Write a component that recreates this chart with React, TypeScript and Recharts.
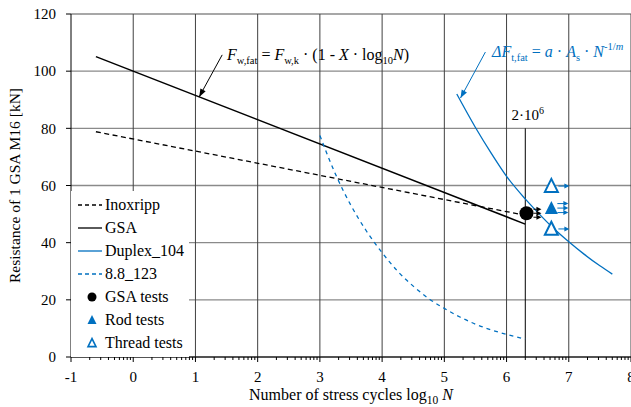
import React from 'react';
import {
  ComposedChart,
  Line,
  Scatter,
  XAxis,
  YAxis,
  CartesianGrid,
  ReferenceLine,
  ReferenceDot,
  Legend,
} from 'recharts';

const BLUE = '#0070c0';
const FONT = '"Liberation Serif", "Times New Roman", serif';

// S-N lines (x = log10 N, y = resistance in kN)
const inoxripp = [
  { x: -0.6, y: 78.8 },
  { x: 6.25, y: 49.8 },
];
const gsa = [
  { x: -0.6, y: 105.1 },
  { x: 6.3, y: 46.5 },
];
const duplex104 = [
  { x: 5.2, y: 92 },
  { x: 5.5, y: 80.3 },
  { x: 5.75, y: 71.4 },
  { x: 6, y: 63.2 },
  { x: 6.3, y: 55.3 },
  { x: 6.5, y: 50.6 },
  { x: 6.75, y: 45.1 },
  { x: 7, y: 40.3 },
  { x: 7.25, y: 35.9 },
  { x: 7.5, y: 31.9 },
  { x: 7.7, y: 29 },
];
const bolt88_123 = [
  { x: 3, y: 77.5 },
  { x: 3.25, y: 64 },
  { x: 3.5, y: 53 },
  { x: 3.75, y: 44 },
  { x: 4, y: 36.5 },
  { x: 4.25, y: 30 },
  { x: 4.5, y: 24.8 },
  { x: 4.75, y: 20.4 },
  { x: 5, y: 17 },
  { x: 5.25, y: 14 },
  { x: 5.5, y: 11.5 },
  { x: 5.75, y: 9.5 },
  { x: 6, y: 7.9 },
  { x: 6.3, y: 6.3 },
];

// test results (run-outs, hence the arrows)
const gsaTests = [{ x: 6.32, y: 50.3 }];
const rodTests = [{ x: 6.72, y: 52.1 }];
const threadTests = [
  { x: 6.72, y: 59.8 },
  { x: 6.72, y: 44.8 },
];

const xMajor = [-1, 0, 1, 2, 3, 4, 5, 6, 7, 8];
const xMinor = xMajor.slice(0, -1).flatMap((d) =>
  [2, 3, 4, 5, 6, 7, 8, 9].map((k) => d + Math.log10(k))
);
const xTicks = [...xMajor, ...xMinor].sort((a, b) => a - b);
const yTicks = [0, 20, 40, 60, 80, 100, 120];
const gridX = [0, 1, 2, 3, 4, 5, 6, 7, 8];
const cycleRef = 6.301; // log10(2e6)

const XTick = ({ x, y, payload }: any) => {
  const v = payload.value;
  const major = Math.abs(v - Math.round(v)) < 1e-6;
  return (
    <g>
      <line x1={x} x2={x} y1={y} y2={y + (major ? 5 : 3)} stroke="#000" strokeWidth={1} />
      {major && (
        <text x={x} y={y + 25} textAnchor="middle" fontSize={15} fontFamily={FONT} fill="#000">
          {Math.round(v)}
        </text>
      )}
    </g>
  );
};

const YTitle = ({ viewBox }: any) => {
  const x = viewBox.x + 20;
  const y = viewBox.y + viewBox.height / 2;
  return (
    <text x={x} y={y} transform={`rotate(-90 ${x} ${y})`} textAnchor="middle" fontSize={15.5} fontFamily={FONT} fill="#000">
      Resistance of 1 GSA M16 [kN]
    </text>
  );
};

const XTitle = ({ viewBox }: any) => (
  <text x={viewBox.x + viewBox.width / 2} y={viewBox.y + 43} textAnchor="middle" fontSize={16} fontFamily={FONT} fill="#000">
    Number of stress cycles log
    <tspan fontSize={11.5} dy={4}>10</tspan>
    <tspan dy={-4}> </tspan>
    <tspan fontStyle="italic">N</tspan>
  </text>
);

const head = (x: number, y: number, dx: number, dy: number, len: number, w: number) => {
  const l = Math.hypot(dx, dy) || 1;
  const ux = dx / l;
  const uy = dy / l;
  const bx = x - ux * len;
  const by = y - uy * len;
  return `${x},${y} ${bx - uy * w},${by + ux * w} ${bx + uy * w},${by - ux * w}`;
};

const ArrowLine = (color: string) => (p: any) => (
  <g>
    <line x1={p.x1} y1={p.y1} x2={p.x2} y2={p.y2} stroke={color} strokeWidth={1} />
    <polygon points={head(p.x2, p.y2, p.x2 - p.x1, p.y2 - p.y1, 8, 3)} fill={color} />
  </g>
);

const runOut = (x: number, y: number, color: string, len: number) => (
  <g key={`${x}-${y}`}>
    <line x1={x} x2={x + len - 4} y1={y} y2={y} stroke={color} strokeWidth={1} />
    <polygon points={head(x + len, y, 1, 0, 5, 2.5)} fill={color} />
  </g>
);

const GsaShape = ({ cx, cy }: any) => (
  <g>
    <circle cx={cx} cy={cy} r={7} fill="#000" />
    {[-4, 0, 4].map((d) => runOut(cx + 7, cy + d, '#000', 8))}
  </g>
);

const tri = (cx: number, cy: number, s: number) =>
  `${cx},${cy - s * 0.55} ${cx - s / 2},${cy + s * 0.45} ${cx + s / 2},${cy + s * 0.45}`;

const RodShape = ({ cx, cy }: any) => (
  <g>
    <polygon points={tri(cx, cy, 13)} fill={BLUE} />
    {[-4.5, 0, 4.5].map((d) => runOut(cx + 6, cy + d, BLUE, 11))}
  </g>
);

const ThreadShape = ({ cx, cy }: any) => (
  <g>
    <polygon points={tri(cx, cy, 13)} fill="#fff" stroke={BLUE} strokeWidth={2} />
    {runOut(cx + 7, cy, BLUE, 11)}
  </g>
);

const FormulaBlack = ({ cx, cy }: any) => (
  <text x={cx} y={cy} fontSize={16} fontFamily={FONT} fill="#000">
    <tspan fontStyle="italic">F</tspan>
    <tspan fontSize={10.5} dy={4}>w,fat</tspan>
    <tspan dy={-4}> = </tspan>
    <tspan fontStyle="italic">F</tspan>
    <tspan fontSize={10.5} dy={4}>w,k</tspan>
    <tspan dy={-4}> · (1 - </tspan>
    <tspan fontStyle="italic">X</tspan>
    <tspan> · log</tspan>
    <tspan fontSize={10.5} dy={4}>10</tspan>
    <tspan dy={-4} fontStyle="italic">N</tspan>
    <tspan>)</tspan>
  </text>
);

const FormulaBlue = ({ cx, cy }: any) => (
  <text x={cx} y={cy} fontSize={16} fontFamily={FONT} fill={BLUE}>
    <tspan fontStyle="italic">ΔF</tspan>
    <tspan fontSize={10.5} dy={4}>t,fat</tspan>
    <tspan dy={-4}> = </tspan>
    <tspan fontStyle="italic">a</tspan>
    <tspan> · </tspan>
    <tspan fontStyle="italic">A</tspan>
    <tspan fontSize={10.5} dy={4}>s</tspan>
    <tspan dy={-4}> · </tspan>
    <tspan fontStyle="italic">N</tspan>
    <tspan fontSize={10.5} dy={-7}>-1/</tspan>
    <tspan fontSize={10.5} fontStyle="italic">m</tspan>
  </text>
);

const CycleLabel = ({ cx, cy }: any) => (
  <text x={cx} y={cy} fontSize={15} fontFamily={FONT} fill="#000">
    2·10
    <tspan fontSize={10} dy={-6}>6</tspan>
  </text>
);

const legendRows = [
  { name: 'Inoxripp', kind: 'line', color: '#000', dash: '4 3' },
  { name: 'GSA', kind: 'line', color: '#000', dash: undefined },
  { name: 'Duplex_104', kind: 'line', color: BLUE, dash: undefined },
  { name: '8.8_123', kind: 'line', color: BLUE, dash: '4 3' },
  { name: 'GSA tests', kind: 'circle', color: '#000', dash: undefined },
  { name: 'Rod tests', kind: 'rod', color: BLUE, dash: undefined },
  { name: 'Thread tests', kind: 'thread', color: BLUE, dash: undefined },
];

const LegendBox = () => (
  <svg width={118} height={166} style={{ display: 'block' }}>
    {legendRows.map((r, i) => {
      const y = 14 + i * 23;
      let icon;
      if (r.kind === 'line') {
        icon = <line x1={7} x2={31} y1={y} y2={y} stroke={r.color} strokeWidth={1.3} strokeDasharray={r.dash} />;
      } else if (r.kind === 'circle') {
        icon = <circle cx={21} cy={y} r={4.5} fill="#000" />;
      } else if (r.kind === 'rod') {
        icon = <polygon points={tri(21, y, 9)} fill={BLUE} />;
      } else {
        icon = <polygon points={tri(21, y, 8)} fill="#fff" stroke={BLUE} strokeWidth={1.6} />;
      }
      return (
        <g key={r.name}>
          {icon}
          <text x={34} y={y + 5} fontSize={16} fontFamily={FONT} fill="#000">
            {r.name}
          </text>
        </g>
      );
    })}
  </svg>
);

export default function App() {
  return (
    <div style={{ position: 'absolute', left: 0, top: 0, background: '#fff' }}>
      <ComposedChart width={631} height={407} margin={{ top: 14, right: 0, bottom: 0, left: 0 }}>
        <CartesianGrid vertical={false} stroke="#8a8a8a" strokeWidth={1.3} />
        {gridX.map((t) => (
          <ReferenceLine key={t} x={t} stroke="#404040" strokeWidth={1} />
        ))}
        <XAxis
          type="number"
          dataKey="x"
          domain={[-1, 8]}
          ticks={xTicks}
          interval={0}
          tickSize={0}
          tickMargin={0}
          tick={<XTick />}
          height={50}
          axisLine={{ stroke: '#000' }}
          allowDataOverflow
          label={<XTitle />}
        />
        <YAxis
          type="number"
          domain={[0, 120]}
          ticks={yTicks}
          width={71}
          tickSize={5}
          tickMargin={10}
          tick={{ fill: '#000', fontSize: 15, fontFamily: FONT }}
          tickLine={{ stroke: '#000' }}
          axisLine={{ stroke: '#000' }}
          label={<YTitle />}
        />
        <ReferenceLine segment={[{ x: cycleRef, y: 0 }, { x: cycleRef, y: 80 }]} stroke="#000" strokeWidth={1} />
        <ReferenceDot x={6.08} y={82.9} r={0} shape={CycleLabel} />
        <Line data={inoxripp} dataKey="y" type="linear" stroke="#000" strokeWidth={1.3} strokeDasharray="5 3.5" dot={false} isAnimationActive={false} />
        <Line data={gsa} dataKey="y" type="linear" stroke="#000" strokeWidth={1.5} dot={false} isAnimationActive={false} />
        <Line data={duplex104} dataKey="y" type="monotone" stroke={BLUE} strokeWidth={1.3} dot={false} isAnimationActive={false} />
        <Line data={bolt88_123} dataKey="y" type="monotone" stroke={BLUE} strokeWidth={1.3} strokeDasharray="4 4" dot={false} isAnimationActive={false} />
        <Scatter data={gsaTests} dataKey="y" shape={GsaShape} isAnimationActive={false} />
        <Scatter data={rodTests} dataKey="y" shape={RodShape} isAnimationActive={false} />
        <Scatter data={threadTests} dataKey="y" shape={ThreadShape} isAnimationActive={false} />
        <ReferenceLine segment={[{ x: 1.43, y: 105.7 }, { x: 1.06, y: 91 }]} shape={ArrowLine('#000')} />
        <ReferenceLine segment={[{ x: 5.66, y: 106.7 }, { x: 5.26, y: 90.6 }]} shape={ArrowLine(BLUE)} />
        <ReferenceDot x={1.507} y={103.9} r={0} shape={FormulaBlack} />
        <ReferenceDot x={5.766} y={105} r={0} shape={FormulaBlue} />
        <Legend
          layout="vertical"
          align="center"
          verticalAlign="middle"
          wrapperStyle={{ left: 71, top: 191, width: 118, height: 166, background: '#fff' }}
          content={<LegendBox />}
        />
      </ComposedChart>
    </div>
  );
}
